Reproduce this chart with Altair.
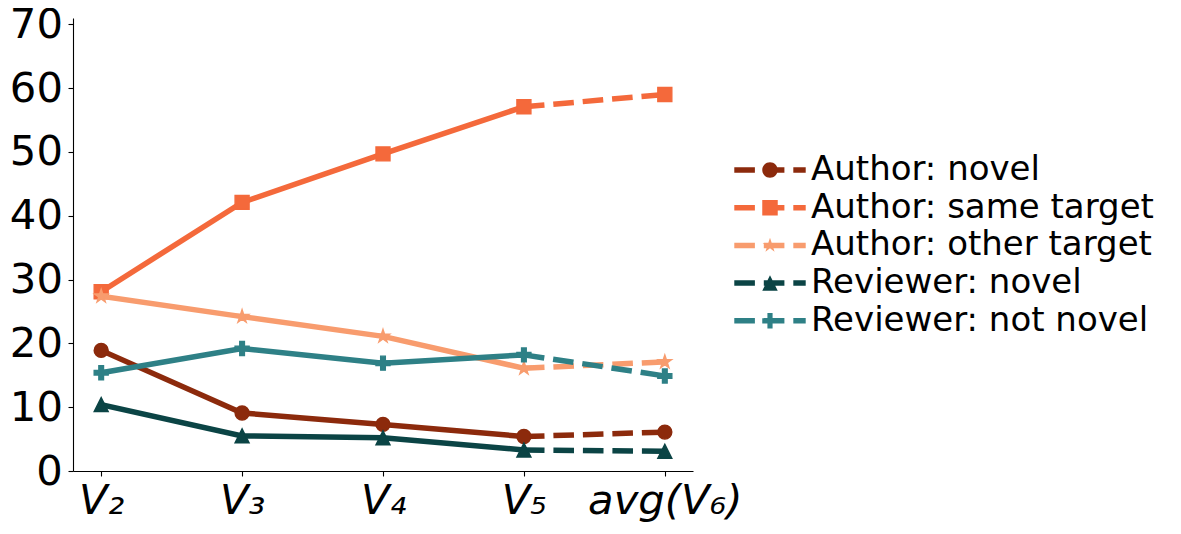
import altair as alt
import pandas as pd
import re

versions = ["V₂", "V₃", "V₄", "V₅", "avg(V₆)"]
series_names = [
    "Author: novel",
    "Author: same target",
    "Author: other target",
    "Reviewer: novel",
    "Reviewer: not novel",
]
author_novel = [18.9, 9.1, 7.3, 5.4, 6.1]
author_same = [28.1, 42.1, 49.7, 57.1, 59.0]
author_other = [27.4, 24.2, 21.1, 16.1, 17.1]
reviewer_novel = [10.4, 5.5, 5.2, 3.3, 3.1]
reviewer_not_novel = [15.4, 19.2, 16.9, 18.2, 14.9]
colors = ["#8C2A0C", "#F4693B", "#F89C6E", "#0B4445", "#2E8086"]

values = [author_novel, author_same, author_other, reviewer_novel, reviewer_not_novel]

rows = []
for name, vals in zip(series_names, values):
    for i, (ver, v) in enumerate(zip(versions, vals)):
        rows.append({"series": name, "version": ver, "idx": i, "value": v})
df = pd.DataFrame(rows)

# marker shapes (unit box -1..1)
circle = "M1,0A1,1 0 1,1 -1,0A1,1 0 1,1 1,0Z"
square = "M-1,-1H1V1H-1Z"
star = ("M0,-1L0.2245,-0.309L0.951,-0.309L0.3633,0.118L0.5878,0.809"
        "L0,0.382L-0.5878,0.809L-0.3633,0.118L-0.951,-0.309L-0.2245,-0.309Z")
triangle = "M0,-1L1,1L-1,1Z"
plus = ("M-0.333,-1H0.333V-0.333H1V0.333H0.333V1H-0.333V0.333H-1V-0.333H-0.333Z")
markers = [circle, square, star, triangle, plus]


def scale_path(p, k):
    out = []
    tokens = re.findall(r"[A-Za-z]|-?\d*\.?\d+", p)
    cmd = None
    arc_i = 0
    for tok in tokens:
        if tok.isalpha():
            cmd = tok
            arc_i = 0
            out.append(tok)
        else:
            v = float(tok)
            if cmd == "A":
                pos = arc_i % 7
                arc_i += 1
                if pos in (2, 3, 4):
                    out.append(tok)
                    continue
            out.append(f"{v * k:.4f}")
    s = ""
    for o in out:
        if o.isalpha():
            s += o
        else:
            s += (o if s[-1].isalpha() else " " + o)
    return s


t = 0.355
def rect(x0, x1):
    return f"M{x0},{-t}H{x1}V{t}H{x0}Z"

dash_line = rect(-4.61, -1.95) + rect(-0.80, 1.86) + rect(3.01, 4.61)
legend_paths = [dash_line + scale_path(m, 1.0) for m in markers]

x_enc = alt.X("version:N", scale=alt.Scale(domain=versions, type="point", padding=0.2),
              axis=alt.Axis(title=None, labelAngle=0))
y_enc = alt.Y("value:Q", scale=alt.Scale(domain=[0, 71], nice=False, zero=True),
              axis=alt.Axis(title=None, values=[0, 10, 20, 30, 40, 50, 60, 70]))

layers = []
for name, col, mk in zip(series_names, colors, markers):
    base = alt.Chart(df).transform_filter(alt.datum.series == name)
    solid = base.transform_filter(alt.datum.idx <= 3).mark_line(
        color=col, strokeWidth=5.5, strokeCap="square"
    ).encode(x=x_enc, y=y_enc, order="idx:Q")
    dashed = base.transform_filter(alt.datum.idx >= 3).mark_line(
        color=col, strokeWidth=5.5, strokeDash=[20.6, 8.9]
    ).encode(x=x_enc, y=y_enc, order="idx:Q")
    pts = base.mark_point(
        shape=mk, filled=True, fill=col, stroke=col, strokeWidth=1.4, size=196, opacity=1
    ).encode(x=x_enc, y=y_enc)
    layers += [solid, dashed, pts]

leg = dict(
    title=None, orient="none", legendX=680, legendY=135,
    labelFontSize=34, labelFont="DejaVu Sans", labelColor="black",
    symbolSize=240, symbolStrokeWidth=0, labelOffset=24,
    rowPadding=3.7, padding=0, labelLimit=600,
)
legend_layer = alt.Chart(df).transform_filter(alt.datum.value < -1000).mark_point(
    filled=True, opacity=1, size=240
).encode(
    x=x_enc,
    y=y_enc,
    color=alt.Color("series:N", scale=alt.Scale(domain=series_names, range=colors),
                    legend=alt.Legend(**leg)),
    shape=alt.Shape("series:N", scale=alt.Scale(domain=series_names, range=legend_paths),
                    legend=alt.Legend(**leg)),
)

chart = alt.layer(*layers, legend_layer).properties(
    width=620, height=453,
    autosize=alt.AutoSizeParams(type="none"),
    padding={"left": 65, "top": 10, "right": 480, "bottom": 62},
).configure_view(stroke=None).configure_axis(
    grid=False,
    labelFont="DejaVu Sans",
    labelFontSize=41.7,
    labelColor="black",
    domainColor="black",
    domainWidth=1.1,
    tickColor="black",
    tickWidth=1.1,
    tickSize=5,
).configure_axisX(
    labelFontStyle="italic", labelPadding=4
).configure_axisY(
    labelPadding=5.6
)

chart.save("out.html", embed_options={"renderer": "svg", "actions": False})
